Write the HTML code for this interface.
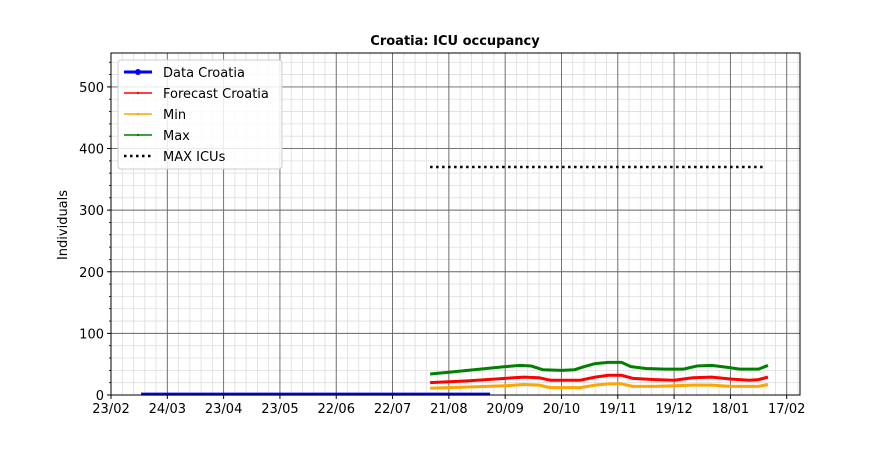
<!DOCTYPE html>
<html><head><meta charset="utf-8"><style>
body{margin:0;background:#fff;font-family:"Liberation Sans","DejaVu Sans",sans-serif}
</style></head><body>
<svg id="c" width="888" height="444" xmlns="http://www.w3.org/2000/svg" font-family="DejaVu Sans, Liberation Sans, sans-serif"></svg>
<script>
const xTickLabels=["23/02","24/03","23/04","23/05","22/06","22/07","21/08","20/09","20/10","19/11","19/12","18/01","17/02"];
const yTicks=[0,100,200,300,400,500];
const dataDays=[16,60,100,150,202];
const dataVals=[1.5,1.5,1.5,1.5,1.5];
const fcDays=[170,190,210,220,228,234,250,258,265,272,278,290,300,310,320,330,340,345,350];
const fcVals=[20,23,27,29,28,24,24,29,32,32,27,25,24,28,29,26,24,25,29];
const minDays=[170,190,210,220,228,234,250,258,265,272,278,290,310,320,330,345,350];
const minVals=[11,13,15,17,16,12,12,16,18,18,14,14,16,16,14,14,17];
const maxDays=[170,180,190,200,210,218,224,230,240,247,252,258,265,272,277,285,295,305,312,320,328,335,345,350];
const maxVals=[34,37,40,43,46,48,47,41,40,41,46,51,53,53,46,43,42,42,47,48,45,42,42,48];
const icuDays=[170,348];
const icuVal=370;

const L=111,R=800,T=53,B=395,pxDay=1.877,yMax=555;
const X=d=>L+d*pxDay, Y=v=>B-(v/yMax)*(B-T);
const svg=document.getElementById('c');const NS="http://www.w3.org/2000/svg";
function el(t,a,p){const e=document.createElementNS(NS,t);for(const k in a)e.setAttribute(k,a[k]);(p||svg).appendChild(e);return e;}
// minor grid
for(let d=0;d*pxDay<=R-L;d+=6){const g=el('line',{x1:X(d),x2:X(d),y1:T,y2:B,stroke:'#ddd','stroke-width':0.8});}
for(let v=0;v<=yMax;v+=20){const g=el('line',{x1:L,x2:R,y1:Y(v),y2:Y(v),stroke:'#ddd','stroke-width':0.8});
const t=el('line',{x1:L-2,x2:L,y1:Y(v),y2:Y(v),stroke:'#000','stroke-width':0.8});}
// major grid
xTickLabels.forEach((s,i)=>{const x=X(i*30);
const g=el('line',{x1:x,x2:x,y1:T,y2:B,stroke:'#666','stroke-width':0.9});
const tk=el('line',{x1:x,x2:x,y1:B,y2:B+4,stroke:'#000'});
const t=el('text',{x:x,y:B+18,'text-anchor':'middle','font-size':13});t.textContent=s;});
yTicks.forEach(v=>{const y=Y(v);
const g=el('line',{x1:L,x2:R,y1:y,y2:y,stroke:'#666','stroke-width':0.9});
const tk=el('line',{x1:L-4,x2:L,y1:y,y2:y,stroke:'#000'});
const t=el('text',{x:L-7,y:y+5,'text-anchor':'end','font-size':13});t.textContent=v;});
function line(days,vals,color,w,name,dash){const p=el('polyline',{points:days.map((d,i)=>X(d)+','+Y(vals[i])).join(' '),fill:'none',stroke:color,'stroke-width':w,'stroke-linejoin':'round'});if(dash)p.setAttribute('stroke-dasharray',dash);}
line(dataDays,dataVals,'#0000ff',3,'data-croatia-line');
line(maxDays,maxVals,'#008000',3,'max-line');
line(fcDays,fcVals,'#ff0000',3,'forecast-line');
line(minDays,minVals,'#ffa500',3,'min-line');
line(icuDays,[icuVal,icuVal],'#000',2.5,'max-icus-line','2.5,3.5');
const fr=el('rect',{x:L,y:T,width:R-L,height:B-T,fill:'none',stroke:'#000','stroke-width':1});
const ti=el('text',{x:455,y:45,'text-anchor':'middle','font-size':13,'font-weight':'bold'});ti.textContent='Croatia: ICU occupancy';
const yl=el('text',{x:67,y:225,'text-anchor':'middle','font-size':13,transform:'rotate(-90 67 225)'});yl.textContent='Individuals';
// legend
const lg=el('g',{});
el('rect',{x:118,y:60,width:164,height:109,rx:3,fill:'#fff','fill-opacity':0.85,stroke:'#ccc'},lg);
const items=[['Data Croatia','#0000ff',3,null,true],['Forecast Croatia','#ff0000',1.5],['Min','#ffa500',1.5],['Max','#008000',1.5],['MAX ICUs','#000',2.5,'2.5,3.5']];
items.forEach((it,i)=>{const y=72+i*21;const g=el('g',{},lg);
const l=el('line',{x1:124,x2:152,y1:y,y2:y,stroke:it[1],'stroke-width':it[2]},g);if(it[3])l.setAttribute('stroke-dasharray',it[3]);
if(it[4])el('circle',{cx:138,cy:y,r:3,fill:it[1]},g);else if(!it[3])el('circle',{cx:138,cy:y,r:1.2,fill:it[1]},g);
const t=el('text',{x:163,y:y+5,'font-size':13},g);t.textContent=it[0];});
</script>
</body></html>
